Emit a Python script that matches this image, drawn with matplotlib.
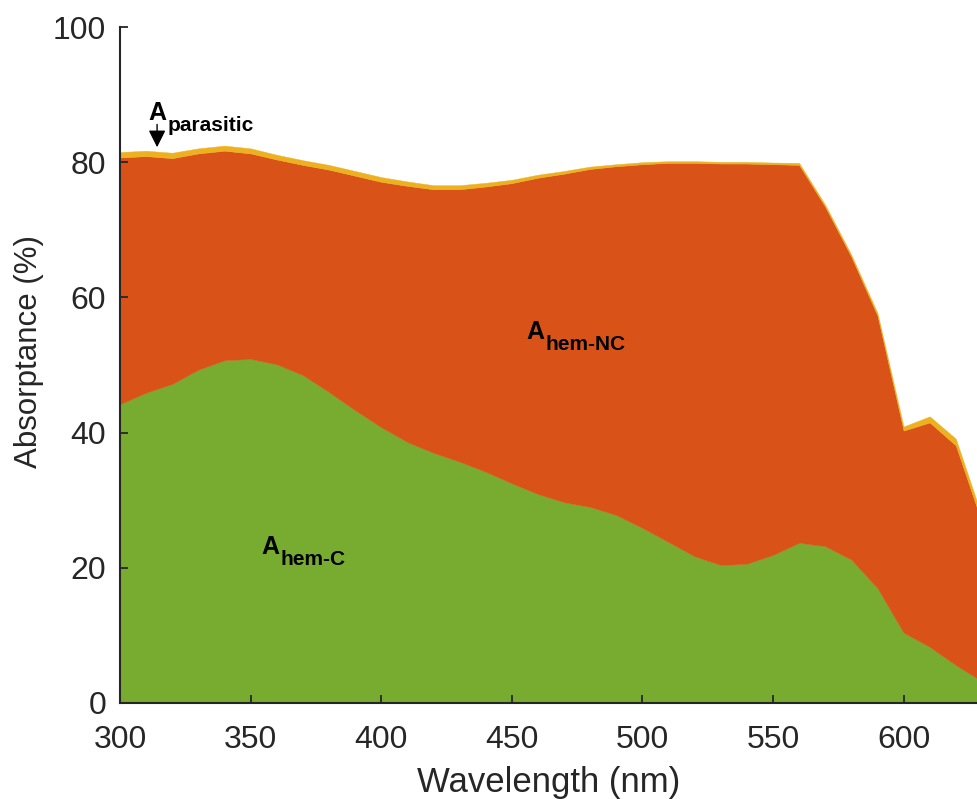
import numpy as np
import matplotlib.pyplot as plt

plt.rcParams['font.family'] = ['Liberation Sans', 'DejaVu Sans']

# wavelength grid (nm)
wavelength = np.arange(300, 640, 10)

# absorptance in the crystalline part (%)
a_hem_c = [44.2, 45.9, 47.2, 49.3, 50.7, 50.9, 50.1, 48.5, 46.0, 43.3,
           40.8, 38.6, 37.0, 35.7, 34.2, 32.5, 30.9, 29.7, 29.0, 27.8,
           25.9, 23.8, 21.7, 20.4, 20.6, 21.9, 23.7, 23.2, 21.2, 17.0,
           10.4, 8.3, 5.6, 3.2]
# absorptance in the non-crystalline part (%)
a_hem_nc = [36.5, 35.0, 33.4, 32.0, 31.0, 30.4, 30.3, 31.1, 32.9, 34.7,
            36.3, 37.9, 39.0, 40.3, 42.2, 44.4, 46.8, 48.6, 50.0, 51.6,
            53.8, 56.1, 58.2, 59.4, 59.2, 57.8, 55.9, 50.2, 44.8, 40.3,
            29.9, 33.2, 32.5, 23.5]
# parasitic absorptance (%)
a_parasitic = [0.8, 0.8, 0.8, 0.75, 0.75, 0.75, 0.7, 0.7, 0.7, 0.7,
               0.7, 0.65, 0.6, 0.6, 0.55, 0.5, 0.45, 0.4, 0.35, 0.3,
               0.3, 0.25, 0.25, 0.25, 0.25, 0.25, 0.3, 0.3, 0.3, 0.4,
               0.6, 0.9, 1.0, 0.9]

colors = ['#77AC30', '#D95319', '#EDB120']
dark = '#262626'

fig = plt.figure(figsize=(9.78, 7.99), dpi=100)
ax = fig.add_axes([0.1227, 0.1202, 0.8773, 0.846])

ax.stackplot(wavelength, a_hem_c, a_hem_nc, a_parasitic,
             colors=colors, linewidth=0.3, edgecolor='face')

ax.set_xlim(300, 628.5)
ax.set_ylim(0, 100)
ax.set_xticks(range(300, 601, 50))
ax.set_yticks(range(0, 101, 20))
ax.tick_params(direction='in', length=6, width=1.3, colors=dark,
               labelsize=23)
ax.tick_params(axis='x', pad=16)
ax.tick_params(axis='y', pad=10)
for side in ['top', 'right']:
    ax.spines[side].set_visible(False)
for side in ['left', 'bottom']:
    ax.spines[side].set_color(dark)
    ax.spines[side].set_linewidth(1.5)

ax.set_xlabel('Wavelength (nm)', fontsize=25, color=dark, labelpad=8)
ax.set_ylabel('Absorptance (%)', fontsize=22.5, color=dark)
ax.yaxis.set_label_coords(-0.089, 0.52)

# region labels
def region_label(x, y, sub):
    ax.text(x, y, 'A', fontsize=18, weight='bold', color='black')
    ax.annotate(sub, xy=(x, y), xytext=(14, -8), textcoords='offset points',
                fontsize=15, weight='bold', color='black')

region_label(354, 22.0, 'hem-C')
region_label(455.4, 53.8, 'hem-NC')
region_label(310.7, 86.3, 'parasitic')

ax.annotate('', xy=(314.2, 81.8), xytext=(314.2, 86.0),
            arrowprops=dict(arrowstyle='-|>', color='black', lw=1,
                            mutation_scale=26))

fig.savefig('out.png', dpi=100)
